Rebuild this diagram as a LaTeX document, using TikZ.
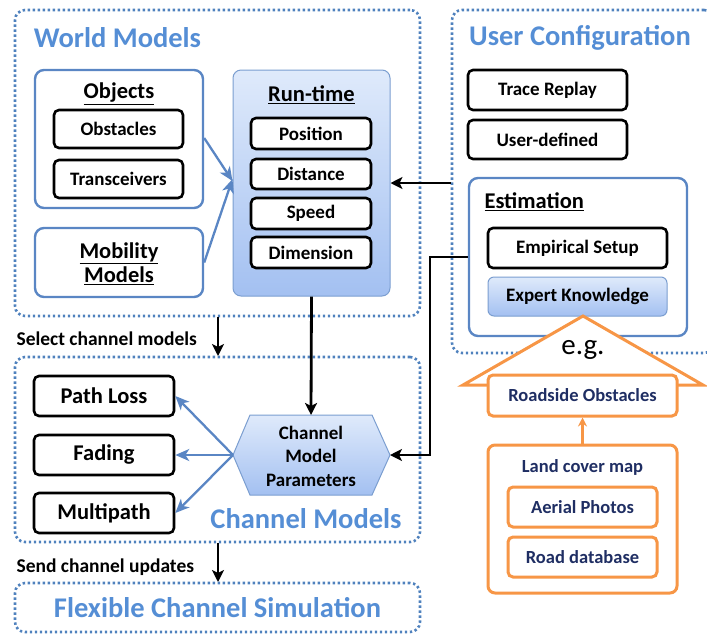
\documentclass[tikz,border=0pt]{standalone}
\usepackage{fontspec}
\setmainfont{Carlito}
\usetikzlibrary{arrows.meta}
\definecolor{dotblue}{HTML}{4F81BD}
\definecolor{titleblue}{HTML}{558ED5}
\definecolor{boxblue}{HTML}{5A86C4}
\definecolor{gradtop}{HTML}{DFEAFB}
\definecolor{gradbot}{HTML}{A3C0F1}
\definecolor{orng}{HTML}{F79646}
\definecolor{navy}{HTML}{1F2E63}
\tikzset{
  dotbox/.style={draw=dotblue, line width=2.6pt, dash pattern=on 2.4pt off 2.6pt, rounded corners=10pt, minimum width=#1},
  title/.style={font=\bfseries\fontsize{28.5}{30}\selectfont, text=titleblue},
  bbox/.style={draw=black, line width=2.6pt, rounded corners=5pt, fill=white, font=\bfseries\fontsize{19}{21}\selectfont},
  cbox/.style={bbox, font=\bfseries\fontsize{22.5}{24}\selectfont},
  bluebox/.style={draw=boxblue, line width=2.4pt, rounded corners=9pt, fill=white},
  gradbox/.style={draw=boxblue!80, line width=1pt, rounded corners=8pt, top color=gradtop, bottom color=gradbot},
  head/.style={font=\bfseries\fontsize{22.5}{26}\selectfont},
  obox/.style={draw=orng, line width=3pt, rounded corners=5pt, fill=white, text=navy, font=\bfseries\fontsize{18.5}{20}\selectfont},
  barrow/.style={-{Stealth[length=12pt,width=12pt,inset=3pt]}, line width=2.8pt, draw=black},
  bluearrow/.style={-{Stealth[length=14pt,width=12pt,inset=4pt]}, line width=2.3pt, draw=boxblue},
  lbl/.style={font=\bfseries\fontsize{19.5}{21}\selectfont, anchor=west},
}
\begin{document}
\begin{tikzpicture}[x=1pt,y=-1pt]
\useasboundingbox (0,0) rectangle (707,633);
\begin{scope}
\clip (0,0) rectangle (707,633);
% dotted group boxes
\node[dotbox=405, minimum height=306] (wm) at (217.5,163) {};
\node[dotbox=262, minimum height=343] (uc) at (583,181.5) {};
\node[dotbox=405, minimum height=185] (cm) at (217.5,449.5) {};
\node[dotbox=405, minimum height=49] (fcs) at (217.5,607.5) {};
\end{scope}

\node[title] (wmt) at (117.5,38) {World Models};
\node[title] (uct) at (580,38) {User Configuration};
\node[title] (cmt) at (306,519) {Channel Models};
\node[title] (fcst) at (217.5,608) {Flexible Channel Simulation};

% World models content
\node[bluebox, minimum width=168, minimum height=138] (obj) at (119,139) {};
\node[head] (objt) at (119,94) {\underline{Objects}};
\node[bbox, minimum width=129, minimum height=38] (obst) at (118.5,129) {Obstacles};
\node[bbox, minimum width=129, minimum height=38] (trans) at (118.5,179) {Transceivers};
\node[bluebox, minimum width=168, minimum height=69] (mob) at (119,262.5) {};
\node[head, align=center] (mobt) at (119,263.5) {\underline{Mobility}\\[-2pt]\underline{Models}};

\node[gradbox, minimum width=157, minimum height=226] (rt) at (311.5,183) {};
\node[head] (rtt) at (311.5,95) {\underline{Run-time}};
\node[bbox, minimum width=120, minimum height=31] (pos) at (311,133.5) {Position};
\node[bbox, minimum width=120, minimum height=30] (dist) at (311,174) {Distance};
\node[bbox, minimum width=120, minimum height=31] (spd) at (311,213.5) {Speed};
\node[bbox, minimum width=120, minimum height=31] (dim) at (311,252.5) {Dimension};

% User configuration content
\node[bbox, minimum width=159, minimum height=40] (tr) at (547.5,90) {Trace Replay};
\node[bbox, minimum width=159, minimum height=39] (ud) at (547.5,139.5) {User-defined};
\node[bluebox, minimum width=218, minimum height=158] (est) at (578,257) {};
\node[head, anchor=west] (estt) at (481,202) {\underline{Estimation}};
\node[bbox, minimum width=179, minimum height=40] (emp) at (577.5,248) {Empirical Setup};
\node[gradbox, rounded corners=6pt, minimum width=179, minimum height=39, font=\bfseries\fontsize{19}{21}\selectfont] (exp) at (577.5,296.5) {Expert Knowledge};

% Channel models content
\draw[draw=boxblue!80, line width=1pt, top color=gradtop, bottom color=gradbot]
  (250,415) -- (372,415) -- (390,455) -- (372,495) -- (250,495) -- (233,455) -- cycle;
\coordinate (hexL) at (233,455);
\coordinate (hexR) at (390,455);
\coordinate (hexT) at (311,415);
\node[align=center, font=\bfseries\fontsize{19}{23.5}\selectfont] (hex) at (311,456) {Channel\\Model\\Parameters};

\node[cbox, minimum width=140, minimum height=40] (pl) at (104,396) {Path Loss};
\node[cbox, minimum width=140, minimum height=40] (fad) at (104,455) {Fading};
\node[cbox, minimum width=140, minimum height=40] (mp) at (104,513) {Multipath};

\node[lbl] (sel) at (13,339) {Select channel models};
\node[lbl] (send) at (13,567) {Send channel updates};

% Orange part
\node[obox, rounded corners=7pt, minimum width=189, minimum height=148] (land) at (582.5,519) {};
\node[font=\bfseries\fontsize{18.5}{20}\selectfont, text=navy] (landt) at (582.5,467) {Land cover map};
\node[obox, minimum width=149, minimum height=40] (aer) at (582.5,507) {Aerial Photos};
\node[obox, minimum width=149, minimum height=40] (road) at (582.5,557) {Road database};
\draw[orng, line width=3pt, fill=white, line join=miter]
  (490,385) -- (463,385) -- (583,316) -- (703,385) -- (675,385);
\node[obox, minimum width=189, minimum height=41] (rs) at (582.5,395.5) {Roadside Obstacles};
\node[font=\fontsize{29}{30}\selectfont] (eg) at (583,350) {e.g.};
\draw[-{Stealth[length=9pt,width=9pt,inset=3pt]}, orng, line width=3pt] (land.north) -- (rs.south);

% connectors
\draw[bluearrow] ([yshift=1pt]obj.east) -- ([yshift=2pt]rt.west);
\draw[bluearrow] (mob.east) -- ([yshift=4pt]rt.west);
\draw[barrow] (uc.west |- rt.east) -- (rt.east);
\draw[barrow] (est.west) -- (430,257) -- (430,455) -- (hexR);
\draw[barrow] (rt.south) -- (hexT);
\draw[barrow] (218,317) -- (218 ,356);
\draw[barrow] (218,543) -- (218,582);
\draw[bluearrow] (hexL) -- (pl.east);
\draw[bluearrow] (hexL) -- (fad.east);
\draw[bluearrow] (hexL) -- (mp.east);
\end{tikzpicture}
\end{document}
